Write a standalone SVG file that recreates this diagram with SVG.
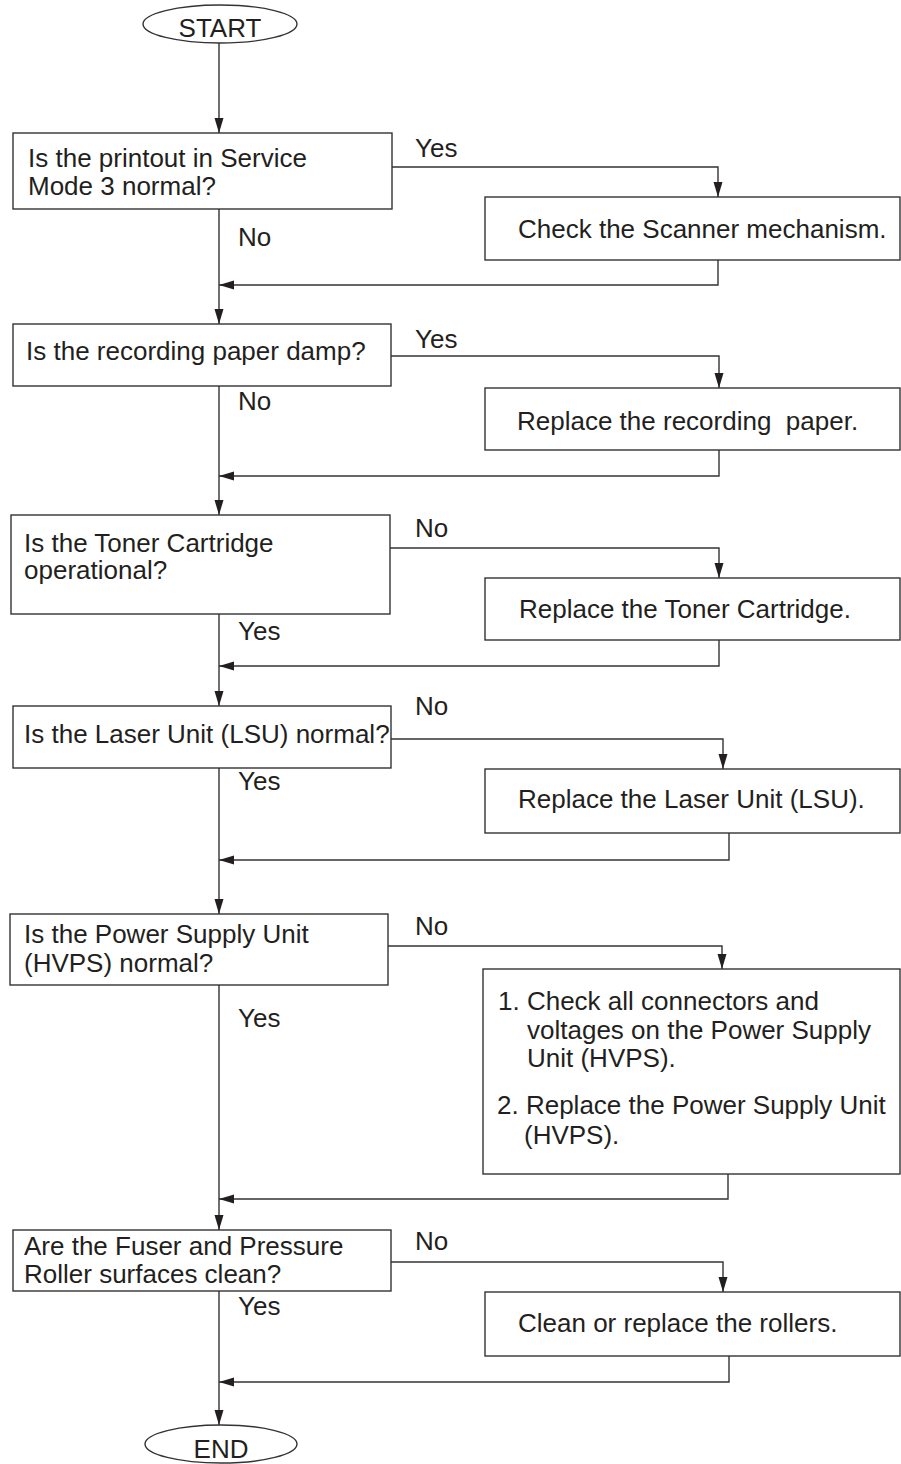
<svg xmlns="http://www.w3.org/2000/svg" width="901" height="1464" viewBox="0 0 901 1464">
<style>
  .box{fill:#fff;stroke:#333;stroke-width:1.4}
  .ln{fill:none;stroke:#333;stroke-width:1.4}
  text{font-family:"Liberation Sans",Arial,Helvetica,sans-serif;font-size:26px;fill:#231f20}
  .arr{marker-end:url(#ah)}
</style>
<defs>
  <marker id="ah" markerUnits="userSpaceOnUse" markerWidth="16" markerHeight="10" refX="15" refY="4.5" orient="auto">
    <path d="M0,0 L15,4.5 L0,9 z" fill="#231f20"/>
  </marker>
</defs>
<rect width="901" height="1464" fill="#fff"/>

<g id="connectors">
  <line class="ln arr" x1="219" y1="43" x2="219" y2="133"/>
  <line class="ln arr" x1="219" y1="209" x2="219" y2="324"/>
  <line class="ln arr" x1="219" y1="386" x2="219" y2="515"/>
  <line class="ln arr" x1="219" y1="614" x2="219" y2="706"/>
  <line class="ln arr" x1="219" y1="768" x2="219" y2="914"/>
  <line class="ln arr" x1="219" y1="985" x2="219" y2="1230"/>
  <line class="ln arr" x1="219" y1="1291" x2="219" y2="1425"/>

  <polyline class="ln arr" points="392,167 718,167 718,197"/>
  <polyline class="ln arr" points="718,260 718,285 219,285"/>
  <polyline class="ln arr" points="391,356 719,356 719,388"/>
  <polyline class="ln arr" points="719,450 719,476 219,476"/>
  <polyline class="ln arr" points="390,548 719,548 719,578"/>
  <polyline class="ln arr" points="719,640 719,666 219,666"/>
  <polyline class="ln arr" points="391,739 723,739 723,769"/>
  <polyline class="ln arr" points="729,833 729,860 219,860"/>
  <polyline class="ln arr" points="388,946 722,946 722,969"/>
  <polyline class="ln arr" points="728,1174 728,1199 219,1199"/>
  <polyline class="ln arr" points="391,1262 723,1262 723,1292"/>
  <polyline class="ln arr" points="729,1356 729,1382 219,1382"/>

  <text x="415" y="157">Yes</text>
  <text x="238" y="246">No</text>
  <text x="415" y="348">Yes</text>
  <text x="238" y="410">No</text>
  <text x="415" y="537">No</text>
  <text x="238" y="640">Yes</text>
  <text x="415" y="715">No</text>
  <text x="238" y="790">Yes</text>
  <text x="415" y="935">No</text>
  <text x="238" y="1027">Yes</text>
  <text x="415" y="1250">No</text>
  <text x="238" y="1315">Yes</text>
</g>

<g id="start">
  <ellipse class="box" cx="220" cy="24" rx="77" ry="19"/>
  <text x="220" y="37" text-anchor="middle">START</text>
</g>

<g id="q1">
  <rect class="box" x="13" y="133" width="379" height="76"/>
  <text x="28" y="167">Is the printout in Service</text>
  <text x="28" y="195">Mode 3 normal?</text>
</g>
<g id="a1">
  <rect class="box" x="485" y="197" width="415" height="63"/>
  <text x="518" y="238">Check the Scanner mechanism.</text>
</g>

<g id="q2">
  <rect class="box" x="13" y="324" width="378" height="62"/>
  <text x="26" y="360">Is the recording paper damp?</text>
</g>
<g id="a2">
  <rect class="box" x="485" y="388" width="415" height="62"/>
  <text x="517" y="430" xml:space="preserve">Replace the recording  paper.</text>
</g>

<g id="q3">
  <rect class="box" x="11" y="515" width="379" height="99"/>
  <text x="24" y="552">Is the Toner Cartridge</text>
  <text x="24" y="579">operational?</text>
</g>
<g id="a3">
  <rect class="box" x="485" y="578" width="415" height="62"/>
  <text x="519" y="618">Replace the Toner Cartridge.</text>
</g>

<g id="q4">
  <rect class="box" x="13" y="706" width="378" height="62"/>
  <text x="24" y="743">Is the Laser Unit (LSU) normal?</text>
</g>
<g id="a4">
  <rect class="box" x="485" y="769" width="415" height="64"/>
  <text x="518" y="808">Replace the Laser Unit (LSU).</text>
</g>

<g id="q5">
  <rect class="box" x="10" y="914" width="378" height="71"/>
  <text x="24" y="943">Is the Power Supply Unit</text>
  <text x="24" y="972">(HVPS) normal?</text>
</g>
<g id="a5">
  <rect class="box" x="483" y="969" width="417" height="205"/>
  <text x="498" y="1010">1. Check all connectors and</text>
  <text x="527" y="1039">voltages on the Power Supply</text>
  <text x="527" y="1067">Unit (HVPS).</text>
  <text x="497" y="1114">2. Replace the Power Supply Unit</text>
  <text x="524" y="1144">(HVPS).</text>
</g>

<g id="q6">
  <rect class="box" x="13" y="1230" width="378" height="61"/>
  <text x="24" y="1255">Are the Fuser and Pressure</text>
  <text x="24" y="1283">Roller surfaces clean?</text>
</g>
<g id="a6">
  <rect class="box" x="485" y="1292" width="415" height="64"/>
  <text x="518" y="1332">Clean or replace the rollers.</text>
</g>

<g id="end">
  <ellipse class="box" cx="221" cy="1444" rx="76" ry="19"/>
  <text x="221" y="1458" text-anchor="middle">END</text>
</g>
</svg>
